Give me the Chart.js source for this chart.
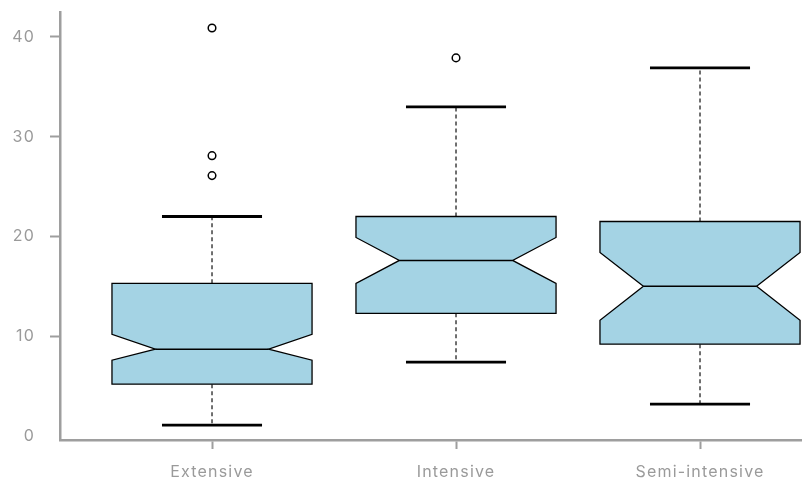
<!DOCTYPE html>
<html>
<head>
<meta charset="utf-8">
<script src="https://cdn.jsdelivr.net/npm/chart.js@4"></script>
<style>
  html, body { margin: 0; padding: 0; background: #ffffff; }
  #wrap { width: 802px; height: 483px; position: relative; }
</style>
</head>
<body>
<div id="wrap"><canvas id="c"></canvas></div>
<script>
// ---- data ----
const categories  = ['Extensive', 'Intensive', 'Semi-intensive'];
const whiskerLow  = [1.1, 7.4, 3.2];
const q1          = [5.2, 12.3, 9.2];
const median      = [8.7, 17.6, 15.0];
const q3          = [15.3, 22.0, 21.5];
const whiskerHigh = [22.0, 33.0, 36.9];
const notchLow    = [7.6, 15.3, 11.6];
const notchHigh   = [10.2, 19.9, 18.4];
const outliersExtensive = [26.1, 28.1, 40.9];
const outliersIntensive = [37.9];
const outliersSemi      = [];
const yTicks = [0, 10, 20, 30, 40];

const outlierGroups = [outliersExtensive, outliersIntensive, outliersSemi];
const outlierPoints = [];
outlierGroups.forEach((arr, i) => arr.forEach(v => outlierPoints.push({ x: i + 1, y: v })));

const AXIS = '#9e9e9e';
const TEXT = '#9a9a9a';
const FILL = '#a4d3e4';
const BOX_HALF = 0.41;
const NOTCH_HALF = 0.232;
const CAP_HALF = 0.205;

const spacingPlugin = {
  id: 'spacing',
  beforeInit(chart) { chart.ctx.letterSpacing = '1.2px'; },
  beforeUpdate(chart) { chart.ctx.letterSpacing = '1.2px'; },
  beforeDraw(chart) { chart.ctx.letterSpacing = '1.2px'; }
};

const boxPlugin = {
  id: 'notchedBoxes',
  beforeDatasetsDraw(chart) {
    const { ctx, scales: { x, y } } = chart;
    ctx.save();
    categories.forEach((cat, i) => {
      const c = i + 1;
      const xl = x.getPixelForValue(c - BOX_HALF);
      const xr = x.getPixelForValue(c + BOX_HALF);
      const nl = x.getPixelForValue(c - NOTCH_HALF);
      const nr = x.getPixelForValue(c + NOTCH_HALF);
      const xc = x.getPixelForValue(c);
      const cl = x.getPixelForValue(c - CAP_HALF);
      const cr = x.getPixelForValue(c + CAP_HALF);
      const yQ1 = y.getPixelForValue(q1[i]);
      const yQ3 = y.getPixelForValue(q3[i]);
      const yMed = y.getPixelForValue(median[i]);
      const yNL = y.getPixelForValue(notchLow[i]);
      const yNH = y.getPixelForValue(notchHigh[i]);
      const yWL = y.getPixelForValue(whiskerLow[i]);
      const yWH = y.getPixelForValue(whiskerHigh[i]);

      // whiskers (dashed)
      ctx.setLineDash([4, 3]);
      ctx.lineWidth = 1.2;
      ctx.strokeStyle = '#111';
      ctx.beginPath();
      ctx.moveTo(xc, yQ3); ctx.lineTo(xc, yWH);
      ctx.moveTo(xc, yQ1); ctx.lineTo(xc, yWL);
      ctx.stroke();
      ctx.setLineDash([]);

      // caps
      ctx.lineWidth = 2.8;
      ctx.strokeStyle = '#000';
      ctx.beginPath();
      ctx.moveTo(cl, yWH); ctx.lineTo(cr, yWH);
      ctx.moveTo(cl, yWL); ctx.lineTo(cr, yWL);
      ctx.stroke();

      // notched box
      ctx.beginPath();
      ctx.moveTo(xl, yQ3);
      ctx.lineTo(xr, yQ3);
      ctx.lineTo(xr, yNH);
      ctx.lineTo(nr, yMed);
      ctx.lineTo(xr, yNL);
      ctx.lineTo(xr, yQ1);
      ctx.lineTo(xl, yQ1);
      ctx.lineTo(xl, yNL);
      ctx.lineTo(nl, yMed);
      ctx.lineTo(xl, yNH);
      ctx.closePath();
      ctx.fillStyle = FILL;
      ctx.fill();
      ctx.lineWidth = 1.3;
      ctx.strokeStyle = '#000';
      ctx.lineJoin = 'miter';
      ctx.stroke();

      // median
      ctx.lineWidth = 1.5;
      ctx.beginPath();
      ctx.moveTo(nl, yMed); ctx.lineTo(nr, yMed);
      ctx.stroke();
    });
    ctx.restore();
  }
};

new Chart(document.getElementById('c'), {
  type: 'scatter',
  data: {
    datasets: [{
      label: 'outliers',
      data: outlierPoints,
      pointRadius: 3.8,
      pointBorderWidth: 1.5,
      pointBorderColor: '#000',
      pointBackgroundColor: '#fff',
      pointHoverRadius: 3.8,
      clip: false
    }]
  },
  options: {
    responsive: true,
    maintainAspectRatio: false,
    animation: false,
    layout: { autoPadding: false, padding: { top: 12, left: 0, right: 0, bottom: 0 } },
    plugins: { legend: { display: false }, tooltip: { enabled: false } },
    scales: {
      x: {
        type: 'linear',
        min: 0.377,
        max: 3.418,
        afterBuildTicks: s => { s.ticks = categories.map((_, i) => ({ value: i + 1 })); },
        afterFit: s => { s.height = 43; s.paddingLeft = 0; s.paddingRight = 0; },
        ticks: {
          callback: v => categories[Math.round(v) - 1] || '',
          color: TEXT,
          font: { family: 'Inter', size: 16 },
          padding: 14,
          maxRotation: 0,
          autoSkip: false
        },
        grid: { drawOnChartArea: false, tickLength: 9, tickColor: AXIS, tickWidth: 2 },
        border: { display: true, color: AXIS, width: 2.5 }
      },
      y: {
        type: 'linear',
        min: -0.4,
        max: 42.5,
        afterBuildTicks: s => { s.ticks = yTicks.map(v => ({ value: v })); },
        afterFit: s => { s.width = 60; s.paddingTop = 0; s.paddingBottom = 0; },
        ticks: {
          color: TEXT,
          font: { family: 'Inter', size: 16 },
          padding: 15
        },
        grid: {
          drawOnChartArea: false,
          tickLength: 10,
          tickWidth: 2,
          tickColor: c => (c.tick && c.tick.value === 0) ? 'rgba(0,0,0,0)' : AXIS
        },
        border: { display: true, color: AXIS, width: 2.5 }
      }
    }
  },
  plugins: [spacingPlugin, boxPlugin]
});
</script>
</body>
</html>
